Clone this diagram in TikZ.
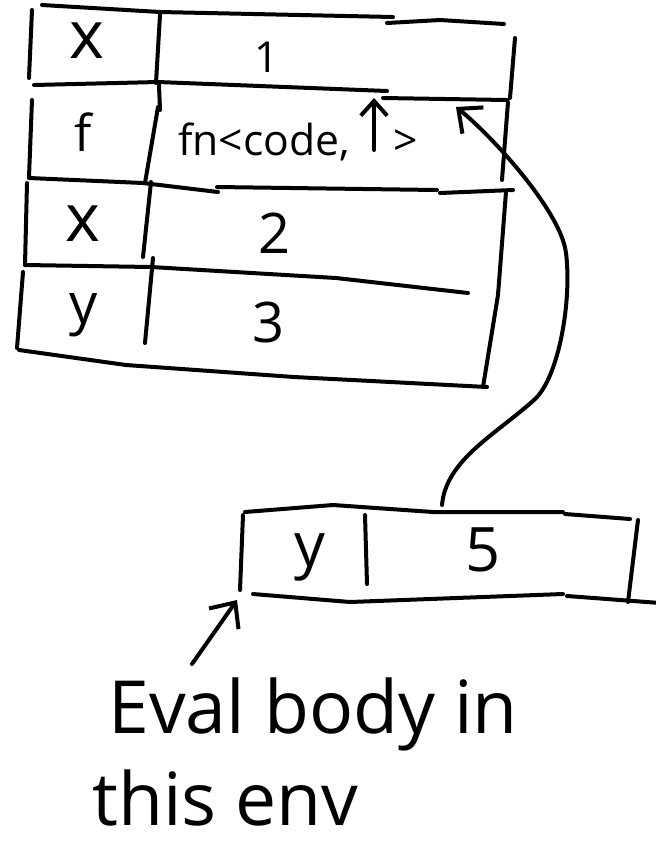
\documentclass[tikz,border=0pt]{standalone}
\usepackage{fontspec}
\setmainfont{Open Sans}
\usetikzlibrary{arrows.meta}
\newcommand{\fs}[1]{\fontsize{#1}{#1}\selectfont}
\tikzset{
  ink/.style={line width=3pt, line cap=round, line join=round},
  lbl/.style={inner sep=0pt, anchor=center},
  barb/.style={-{Straight Barb[length=#1, width=1.8*#1, line width=3pt]}},
}
\begin{document}
\begin{tikzpicture}[x=0.75pt, y=-0.75pt]
\useasboundingbox (0,0) rectangle (656,844);

% ---- outer frame: four rows of name | value ----
% top edge
\draw[ink] (42,5) -- (160,12) -- (393,17);
\draw[ink] (387,23) -- (440,20) -- (504,24);
% row separators
\draw[ink] (34,85) -- (158,82) -- (387,91);
\draw[ink] (383,98) -- (507,100);
\draw[ink] (29,178) -- (143,183) -- (218,192);
\draw[ink] (217,187) -- (437,190);
\draw[ink] (440,193) -- (513,190);
\draw[ink] (25,265) -- (151,267) -- (336,278) -- (468,293);
% bottom edge
\draw[ink] (19,350) -- (126,365) -- (294,377) -- (487,387);
% left edges
\draw[ink] (32,10) -- (29,78);
\draw[ink] (32,100) -- (29,177);
\draw[ink] (27,183) -- (25,265);
\draw[ink] (23,272) -- (17,348);
% name/value divider
\draw[ink] (160,15) -- (156,83);
\draw[ink] (159,85) -- (160,110);
\draw[ink] (158,107) -- (145,183);
\draw[ink] (151,182) -- (143,257);
\draw[ink] (153,258) -- (145,343);
% right edge
\draw[ink] (515,38) -- (510,98);
\draw[ink] (508,102) -- (502,180);
\draw[ink] (506,192) -- (498,295) -- (483,387);

% ---- frame contents ----
\node[lbl] (n1) at (87,41)  {\fs{50}x};
\node[lbl] (v1) at (267,57) {\fs{32}1};
\node[lbl] (n2) at (83,132) {\fs{38}f};
\node[inner sep=0pt, anchor=base west] (v2) at (178,155) {\fs{32}fn<code,};
\node[lbl] (v2end) at (406,143) {\fs{32}>};
\node[lbl] (n3) at (83,224) {\fs{50}x};
\node[lbl] (v3) at (275,233) {\fs{42}2};
\node[lbl] (n4) at (84,315) {\fs{42}y};
\node[lbl] (v4) at (269,322) {\fs{42}3};

% environment pointer of the closure
\coordinate (envtail) at (374,150);
\coordinate (envtip) at (374,98);
\draw[ink, barb=11pt] (envtail) -- (envtip);

% ---- new frame ----
\draw[ink] (245,512) -- (333,505) -- (433,512) -- (563,512);
\draw[ink] (565,514) -- (630,519);
\draw[ink] (253,594) -- (350,602) -- (563,594);
\draw[ink] (567,596) -- (660,603);
\draw[ink] (243,515) -- (240,590);
\draw[ink] (365,515) -- (367,584);
\draw[ink] (638,520) -- (628,602);

\node[lbl] (m1) at (310,557) {\fs{46}y};
\node[lbl] (w1) at (483,550) {\fs{46}5};

% parent link of the new frame
\coordinate (parentfrom) at (442,505);
\coordinate (parentto) at (456,107);
\draw[ink, barb=14pt] (parentfrom)
  .. controls (446,460) and (495,435) .. (534,400)
  .. controls (559,378) and (572,300) .. (566,253)
  .. controls (561,211) and (491,135) .. (parentto);

% ---- note ----
\coordinate (notetail) at (192,664);
\coordinate (notetip) at (237,600);
\draw[ink, barb=15pt] (notetail) -- (notetip);
\node[inner sep=0pt, anchor=base west] (note1) at (108,733) {\fs{55}Eval body in};
\node[inner sep=0pt, anchor=base west] (note2) at (92,825) {\fs{55}this env};
\end{tikzpicture}
\end{document}
